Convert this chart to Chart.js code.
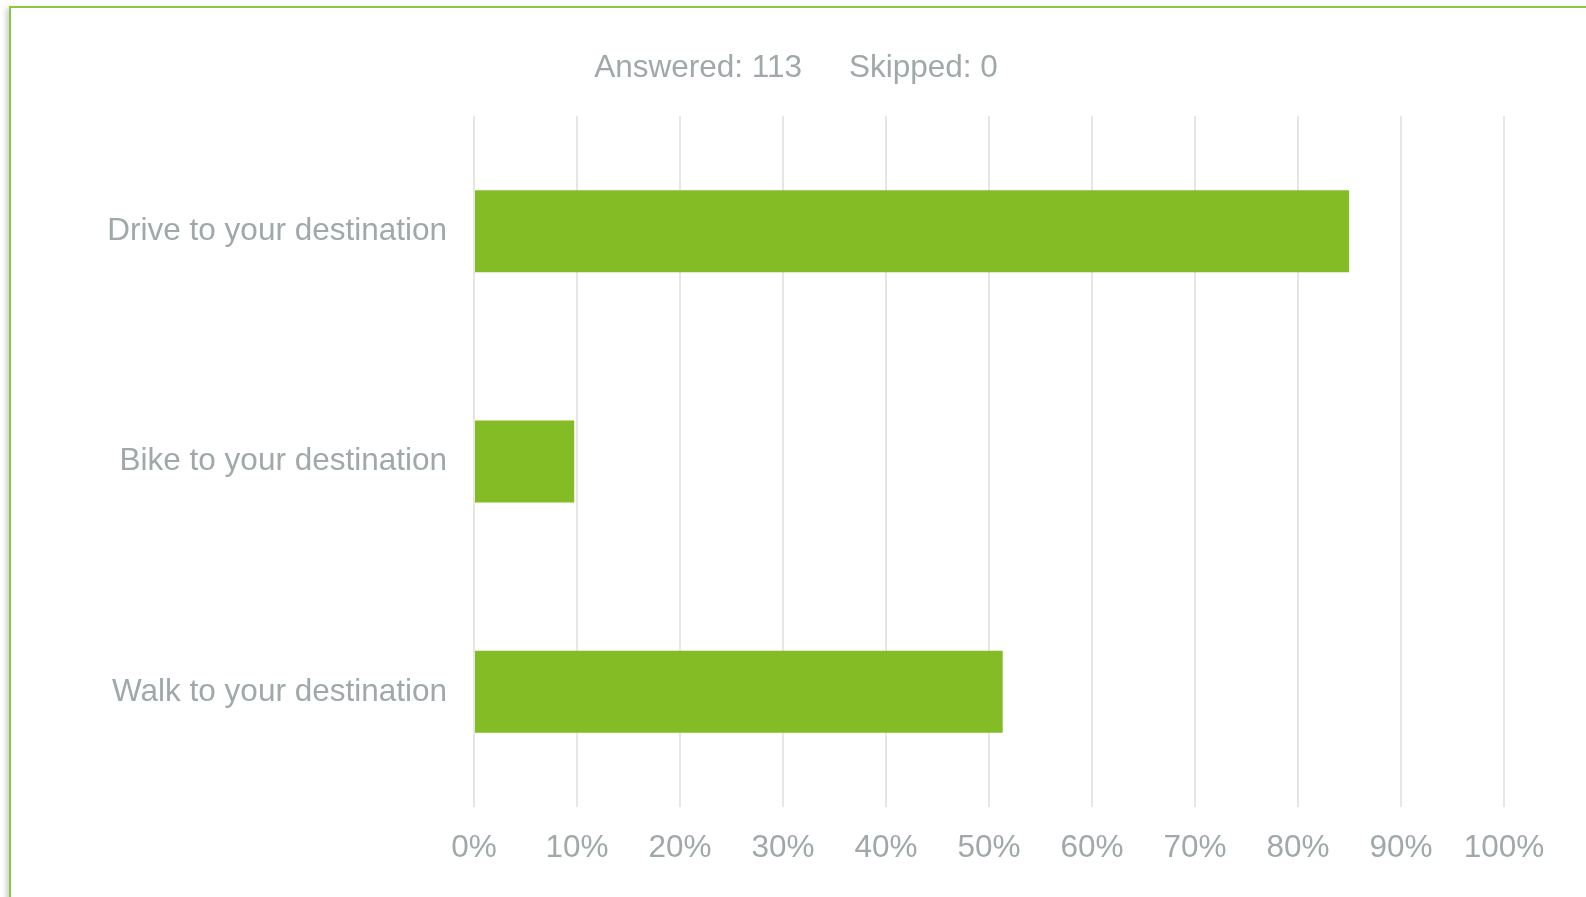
<!DOCTYPE html>
<html>
<head>
<meta charset="utf-8">
<script src="https://cdn.jsdelivr.net/npm/chart.js@4/dist/chart.umd.min.js"></script>
<style>
  body { margin: 0; background: #fff; overflow: hidden; }
  #frame {
    position: absolute; left: 9px; top: 6px; width: 1700px; height: 1000px;
    border-top: 2px solid #8dc63f; border-left: 2px solid #8dc63f;
    box-shadow: -3px 2px 5px rgba(0,0,0,0.18);
    background: #fff;
  }
  #wrap { position: absolute; left: 0; top: 0; width: 1586px; height: 897px; }
</style>
</head>
<body>
<div id="frame"></div>
<div id="wrap"><canvas id="surveyChart"></canvas></div>
<script>
  // survey answers (percent of respondents)
  const answers = ['Drive to your destination', 'Bike to your destination', 'Walk to your destination'];
  const percents = [84.96, 9.73, 51.33];
  const answered = 113;
  const skipped = 0;

  const grey = '#a0a8aa';
  const fontFamily = '"Liberation Sans", Arial, sans-serif';

  // header line "Answered: 113   Skipped: 0"
  const headerPlugin = {
    id: 'header',
    afterDraw(chart) {
      const ctx = chart.ctx;
      ctx.save();
      ctx.font = '31.5px ' + fontFamily;
      ctx.fillStyle = grey;
      ctx.textBaseline = 'middle';
      ctx.textAlign = 'left';
      const left = 'Answered: ' + answered;
      const right = 'Skipped: ' + skipped;
      const gap = 47;
      const w = ctx.measureText(left).width + gap + ctx.measureText(right).width;
      const x0 = 796 - w / 2;
      ctx.fillText(left, x0, 68);
      ctx.fillText(right, x0 + ctx.measureText(left).width + gap, 68);
      ctx.restore();
    }
  };

  const ctx = document.getElementById('surveyChart').getContext('2d');
  new Chart(ctx, {
    type: 'bar',
    data: {
      labels: answers,
      datasets: [{
        data: percents,
        backgroundColor: '#84bc25',
        borderWidth: 0,
        barPercentage: 0.356,
        categoryPercentage: 1
      }]
    },
    plugins: [headerPlugin],
    options: {
      indexAxis: 'y',
      responsive: true,
      maintainAspectRatio: false,
      animation: false,
      layout: { padding: { top: 116, right: 82, left: 0, bottom: 0 } },
      plugins: {
        legend: { display: false },
        tooltip: { enabled: false }
      },
      scales: {
        x: {
          min: 0,
          max: 100,
          ticks: {
            stepSize: 10,
            padding: 22,
            color: grey,
            font: { family: fontFamily, size: 31.5 },
            callback: v => v + '%'
          },
          grid: { color: '#e6e6e6', lineWidth: 2, drawTicks: false },
          border: { display: false },
          afterFit: scale => { scale.height = 90; }
        },
        y: {
          ticks: {
            padding: 27,
            color: grey,
            font: { family: fontFamily, size: 31.5 }
          },
          grid: { display: false, drawTicks: false },
          border: { display: false },
          afterFit: scale => { scale.width = 474; }
        }
      }
    }
  });
</script>
</body>
</html>
